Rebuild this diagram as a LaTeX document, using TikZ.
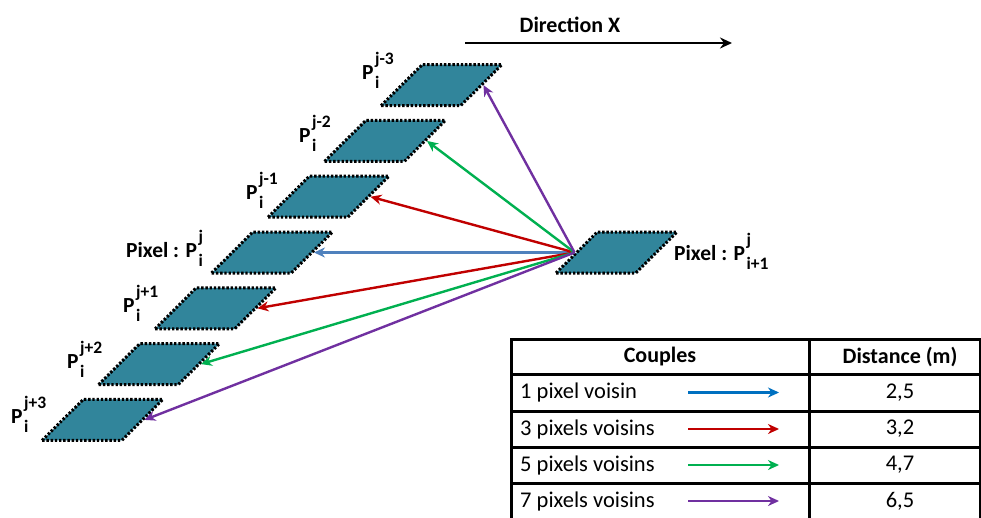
\documentclass[tikz,border=0pt]{standalone}
\usepackage{fontspec}
\setmainfont{Carlito}
\usetikzlibrary{arrows.meta, shapes.geometric, positioning, calc}
\definecolor{pixteal}{RGB}{49, 133, 155}
\definecolor{voisblue}{RGB}{79, 129, 189}
\definecolor{tabblue}{RGB}{0, 112, 192}
\definecolor{voisred}{RGB}{192, 0, 0}
\definecolor{voisgreen}{RGB}{0, 176, 80}
\definecolor{voispurple}{RGB}{112, 48, 160}
% P avec exposant et indice empiles
\newcommand{\pixsym}[2]{P\kern1.5pt\rlap{\raisebox{15pt}{\fontsize{17.5}{17.5}\selectfont #1}}\raisebox{-9pt}{\fontsize{17.5}{17.5}\selectfont #2}}

\begin{document}
\begin{tikzpicture}[x=1pt, y=-1pt,
    pixel/.style={trapezium, trapezium left angle=43, trapezium right angle=137,
        trapezium stretches=true, minimum width=121pt, minimum height=41pt,
        inner sep=2pt, fill=pixteal, draw=black, line width=3pt,
        dash pattern=on 2.4pt off 1.8pt},
    lab/.style={font=\bfseries\fontsize{21.5}{24}\selectfont, inner sep=0pt},
    head/.style={font=\bfseries\fontsize{22}{24}\selectfont, inner sep=0pt},
    cell/.style={font=\fontsize{22.5}{24}\selectfont, inner sep=0pt},
    tab/.style={line width=3pt},
    vois/.style={line width=2.4pt, -{Stealth[length=11pt, width=10pt, inset=3.5pt]}}]
    \useasboundingbox (0,0) rectangle (981,517);

    % direction
    \coordinate (dirA) at (465,43);
    \coordinate (dirB) at (732,43);
    \draw[line width=2.8pt, -{Stealth[length=12pt, width=11pt, inset=4pt]}] (dirA) -- (dirB);
    \node[head] (dirlab) at (570,25) {Direction X};

    % pixels de la colonne
    \foreach \k in {-3,...,3}
        \node[pixel] (px\k) at ({272-56.5*\k}, {252.5+55.8*\k}) {};
    \node[pixel] (pxr) at (616.5,252.5) {};

    % etiquettes
    \foreach \k/\sup/\lx/\ly in {-3/j-3/362/79, -2/j-2/299/142, -1/j-1/246/199,
                                 1/j+1/123/312, 2/j+2/67/368, 3/j+3/11/423}
        \node[lab, anchor=base west] (lab\k) at (\lx,\ly) {\pixsym{\sup}{i}};
    \node[lab, anchor=base west] (lab0) at (126,257) {Pixel : \pixsym{j}{i}};
    \node[lab, anchor=base west] (labr) at (674,260) {Pixel : \pixsym{j}{i+1}};

    % couples de voisins
    \draw[vois, voisblue] (pxr.west) -- (px0.east);
    \draw[vois, voisred] (pxr.west) -- (px-1.east);
    \draw[vois, voisred] (pxr.west) -- (px1.east);
    \draw[vois, voisgreen] (pxr.west) -- (px-2.east);
    \draw[vois, voisgreen] (pxr.west) -- (px2.east);
    \draw[vois, voispurple] (pxr.west) -- (px-3.east);
    \draw[vois, voispurple] (pxr.west) -- (px3.east);

    % tableau
    \draw[tab] (511.5,339) rectangle (980,540);
    \draw[tab] (809,339) -- (809,540);
    \foreach \y in {374,411,447,483}
        \draw[tab] (511.5,\y) -- (980,\y);
    \node[head] (hcoup) at (660,357) {Couples};
    \node[head] (hdist) at (900,357) {Distance (m)};
    \foreach \r/\txt/\col/\val/\y in {1/1 pixel voisin/tabblue/{2,5}/392.5,
                                      2/3 pixels voisins/voisred/{3,2}/429,
                                      3/5 pixels voisins/voisgreen/{4,7}/465,
                                      4/7 pixels voisins/voispurple/{6,5}/501} {
        \node[cell, anchor=west] (txt\r) at (520,\y) {\txt};
        \coordinate (ta\r) at (688,\y);
        \coordinate (tb\r) at (779,\y);
        \draw[vois, \col] (ta\r) -- (tb\r);
        \node[cell] (val\r) at (900,\y) {\val};
    }
\end{tikzpicture}
\end{document}
